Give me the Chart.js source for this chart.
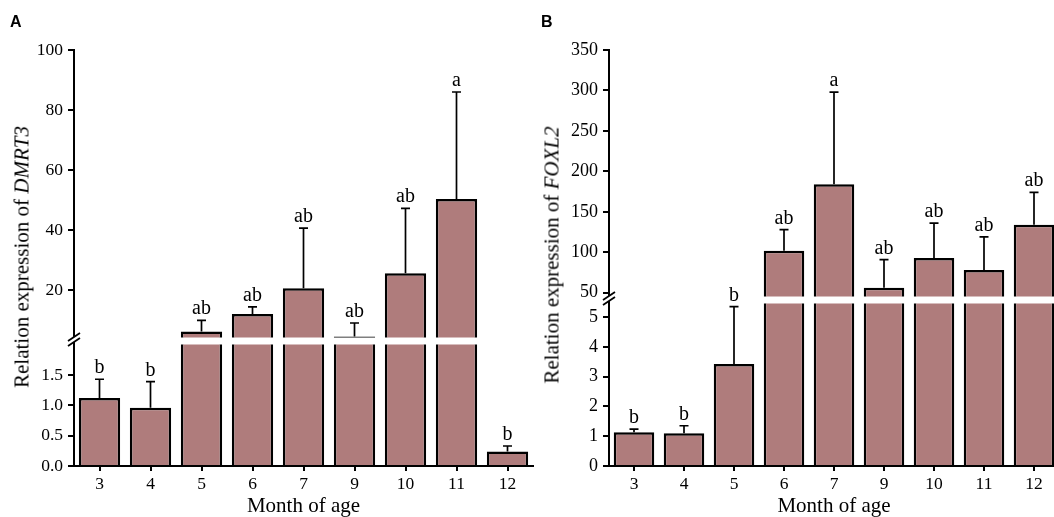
<!DOCTYPE html>
<html><head><meta charset="utf-8">
<script src="https://cdn.jsdelivr.net/npm/chart.js@4.4.1/dist/chart.umd.min.js"></script>
<style>
html,body{margin:0;padding:0;background:#fff;width:1054px;height:517px;overflow:hidden;}
#wrap{position:relative;width:1054px;height:517px;overflow:hidden;background:#fff;}
canvas{position:absolute;top:0;}
#cA{left:0;}
#cB{left:520px;}
.panel{position:absolute;font:bold 16px 'Liberation Sans',Arial,sans-serif;color:#000;line-height:16px;}
.ytitle{position:absolute;font:21px 'Liberation Serif','Times New Roman',serif;color:#000;white-space:nowrap;transform:translate(-50%,-50%) rotate(-90deg);line-height:1;}
</style></head>
<body><div id="wrap">
<canvas id="cA" width="540" height="517"></canvas>
<canvas id="cB" width="545" height="517"></canvas>
<div class="panel" style="left:10px;top:14px">A</div>
<div class="panel" style="left:541px;top:14px">B</div>
<div class="ytitle" style="left:22px;top:257px">Relation expression of <i>DMRT3</i></div>
<div class="ytitle" style="left:552px;top:255px">Relation expression of <i>FOXL2</i></div>
</div>
<script>
// ---- data ----
const months = ['3', '4', '5', '6', '7', '9', '10', '11', '12'];

const dmrt3Mean = [1.12, 0.96, 6.2, 12.0, 20.6, 4.5, 25.6, 50.3, 0.24];
const dmrt3Sd = [0.31, 0.43, 3.7, 2.4, 20.0, 4.5, 21.6, 35.7, 0.09];
const dmrt3Letters = ['b', 'b', 'ab', 'ab', 'ab', 'ab', 'ab', 'a', 'b'];

const foxl2Mean = [1.13, 1.10, 3.42, 102, 184, 56, 93, 78, 134];
const foxl2Sd = [0.11, 0.25, 1.93, 26, 114, 35, 43, 41, 40];
const foxl2Letters = ['b', 'b', 'b', 'ab', 'a', 'ab', 'ab', 'ab', 'ab'];

const dmrt3UpperTicks = [20, 40, 60, 80, 100];
const dmrt3LowerTicks = [0, 0.5, 1, 1.5];
const foxl2UpperTicks = [50, 100, 150, 200, 250, 300, 350];
const foxl2LowerTicks = [0, 1, 2, 3, 4, 5];

// ---- style ----
const SERIF = "'Liberation Serif', 'Times New Roman', serif";
Chart.defaults.font.family = SERIF;
Chart.defaults.color = '#000';
const BAR = '#af7c7c';

function makeChart(canvasId, cfg) {
  const gap = 3.5;
  const plugin = {
    id: 'brk',
    beforeDatasetDraw(chart, args) {
      const ds = chart.data.datasets[args.index];
      const s = chart.scales[ds.yAxisID];
      const ca = chart.chartArea;
      const ctx = chart.ctx;
      ctx.save();
      ctx.beginPath();
      let t = s.top, b = s.bottom;
      if (ds.yAxisID === 'yUp') b -= gap; else t += gap;
      ctx.rect(ca.left - 2, t, ca.right - ca.left + 4, b - t);
      ctx.clip();
    },
    afterDatasetDraw(chart) { chart.ctx.restore(); },
    afterDraw(chart) {
      const ctx = chart.ctx, ca = chart.chartArea;
      const yUp = chart.scales.yUp, yLow = chart.scales.yLow, x = chart.scales.x;
      const J = yLow.top;
      const ax = ca.left;
      const pix = v => v <= cfg.lower.max ? yLow.getPixelForValue(v) : yUp.getPixelForValue(v);
      ctx.save();
      ctx.strokeStyle = '#000';
      ctx.fillStyle = '#000';
      ctx.lineWidth = 1.7;
      ctx.font = '20px ' + SERIF;
      ctx.textAlign = 'center';
      ctx.textBaseline = 'alphabetic';
      cfg.mean.forEach((m, i) => {
        const cx = x.getPixelForValue(i);
        const y0 = pix(m), y1 = pix(m + cfg.sd[i]);
        ctx.beginPath();
        ctx.moveTo(cx, y0); ctx.lineTo(cx, y1);
        ctx.moveTo(cx - 4.5, y1); ctx.lineTo(cx + 4.5, y1);
        ctx.stroke();
        ctx.fillText(cfg.letters[i], cx, y1 - 6);
      });
      // axis break marks
      ctx.fillStyle = '#fff';
      ctx.fillRect(ax - 3, J - 4, 6, 5);
      ctx.strokeStyle = '#000';
      ctx.lineWidth = 1.8;
      ctx.beginPath();
      ctx.moveTo(ax - 6, J); ctx.lineTo(ax + 6, J - 8);
      ctx.moveTo(ax - 6, J + 5); ctx.lineTo(ax + 6, J - 3);
      ctx.stroke();
      // x axis stub left of y axis
      ctx.lineWidth = 2;
      ctx.beginPath();
      ctx.moveTo(ax - 6, ca.bottom); ctx.lineTo(ax, ca.bottom);
      ctx.stroke();
      ctx.restore();
    }
  };

  const yBase = (part) => ({
    type: 'linear',
    position: 'left',
    stack: 'y',
    stackWeight: part.weight,
    min: part.min,
    max: part.max,
    offset: false,
    grid: { display: true, drawOnChartArea: false, drawTicks: true, tickLength: 6, color: '#000', lineWidth: 2 },
    border: { display: true, color: '#000', width: 2 },
    ticks: { font: { size: cfg.tickSize }, padding: 5, color: '#000', autoSkip: false, callback: part.fmt },
    afterBuildTicks: s => { s.ticks = part.ticks.map(v => ({ value: v })); },
    afterFit: s => { s.width = cfg.axisWidth; }
  });

  const dsBase = {
    data: cfg.mean,
    backgroundColor: BAR,
    borderColor: '#000',
    borderWidth: 2.5,
    barPercentage: 0.81,
    categoryPercentage: 1,
    grouped: false
  };

  return new Chart(document.getElementById(canvasId), {
    type: 'bar',
    data: {
      labels: months,
      datasets: [
        Object.assign({}, dsBase, { yAxisID: 'yLow' }),
        Object.assign({}, dsBase, { yAxisID: 'yUp' })
      ]
    },
    options: {
      responsive: false,
      animation: false,
      layout: { padding: { top: 50, left: 0, right: cfg.padRight, bottom: 0 } },
      plugins: { legend: { display: false }, tooltip: { enabled: false } },
      scales: {
        x: {
          type: 'category',
          offset: true,
          grid: { display: true, drawOnChartArea: false, drawTicks: true, tickLength: 5, offset: false, color: '#000', lineWidth: 2 },
          border: { display: true, color: '#000', width: 2 },
          ticks: { font: { size: 17.5 }, padding: 3, color: '#000', maxRotation: 0, autoSkip: false },
          title: { display: true, text: 'Month of age', font: { size: 21, lineHeight: 1 }, padding: 0, color: '#000' },
          afterFit: s => { s.height = 51; }
        },
        yLow: yBase(cfg.lower),
        yUp: yBase(cfg.upper)
      }
    },
    plugins: [plugin]
  });
}

makeChart('cA', {
  mean: dmrt3Mean, sd: dmrt3Sd, letters: dmrt3Letters,
  axisWidth: 74, padRight: 7, tickSize: 17.5,
  upper: { min: 3, max: 100, weight: 291, ticks: dmrt3UpperTicks, fmt: v => String(v) },
  lower: { min: 0, max: 2.06, weight: 125, ticks: dmrt3LowerTicks, fmt: v => Number(v).toFixed(1) }
});

makeChart('cB', {
  mean: foxl2Mean, sd: foxl2Sd, letters: foxl2Letters,
  axisWidth: 89, padRight: 6, tickSize: 18,
  upper: { min: 41, max: 350, weight: 250, ticks: foxl2UpperTicks, fmt: v => String(v) },
  lower: { min: 0, max: 5.57, weight: 166, ticks: foxl2LowerTicks, fmt: v => String(v) }
});
</script>
</body></html>
